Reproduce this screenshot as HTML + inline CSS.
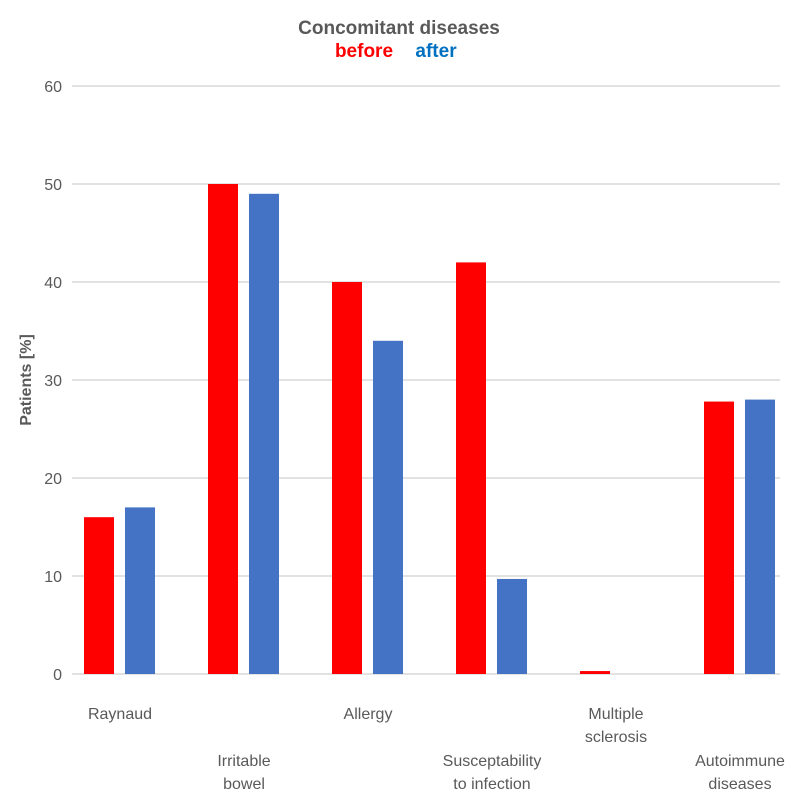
<!DOCTYPE html>
<html><head><meta charset="utf-8"><style>
body{margin:0;background:#fff;font-family:"Liberation Sans",Arial,sans-serif}
</style></head><body>
<svg id="chart" width="798" height="804" xmlns="http://www.w3.org/2000/svg">
<text x="399" y="34" text-anchor="middle" font-size="19" font-weight="bold" fill="#595959">Concomitant diseases</text>
<text x="364" y="57" text-anchor="middle" font-size="19" font-weight="bold" fill="#ff0000">before</text>
<text x="436" y="57" text-anchor="middle" font-size="19" font-weight="bold" fill="#0070c0">after</text>
<text transform="translate(31,380) rotate(-90)" text-anchor="middle" font-size="16" font-weight="bold" fill="#595959">Patients [%]</text>
<g id="grid"></g><g id="bars"></g><g id="labels"></g>
</svg>
<script>
const categories=[["Raynaud"],["Irritable","bowel"],["Allergy"],["Susceptability","to infection"],["Multiple","sclerosis"],["Autoimmune","diseases"]];
const before=[16,50,40,42,0.3,27.8];
const after=[17,49,34,9.7,0,28];
const ticks=[0,10,20,30,40,50,60];
const labelRow=[0,1,0,1,0,1];
const NS="http://www.w3.org/2000/svg";
const y=v=>674-v*9.8;
const xb=i=>58+i*124;
function mk(t,a,p){const e=document.createElementNS(NS,t);for(const k in a)e.setAttribute(k,a[k]);p.appendChild(e);return e;}
const g=document.getElementById('grid'),b=document.getElementById('bars'),l=document.getElementById('labels');
ticks.forEach(t=>{
 const ln=mk('line',{x1:72,x2:780,y1:y(t),y2:y(t),stroke:'#d9d9d9','stroke-width':1.5},g);
 
 
 const tx=mk('text',{x:62,y:y(t)+6,'text-anchor':'end','font-size':16,fill:'#595959'},g);
 tx.textContent=t;
 
 
});
categories.forEach((c,i)=>{
 const r=mk('rect',{x:xb(i)+26,y:y(before[i]),width:30,height:674-y(before[i]),fill:'#ff0000'},b);
 
 
 const r2=mk('rect',{x:xb(i)+67,y:y(after[i]),width:30,height:674-y(after[i]),fill:'#4472c4'},b);
 
 
 const cx=xb(i)+62;
 const y0=labelRow[i]?766:719;
 c.forEach((s,j)=>{
  const t=mk('text',{x:cx,y:y0+j*23,'text-anchor':'middle','font-size':16,fill:'#595959'},l);
  t.textContent=s;
  
  
 });
});
</script>
</body></html>
